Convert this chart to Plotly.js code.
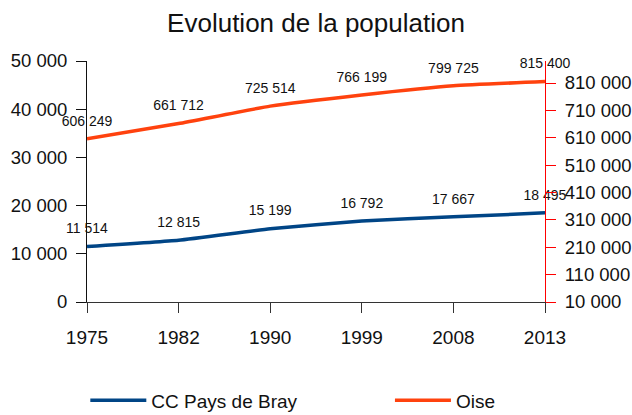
<!DOCTYPE html>
<html>
<head>
<meta charset="utf-8">
<script src="https://cdn.plot.ly/plotly-3.0.1.min.js"></script>
<style>html,body{margin:0;padding:0;background:#fff;}#chart{width:632px;height:415px;}</style>
</head>
<body>
<div id="chart"></div>
<script>
const years = ["1975", "1982", "1990", "1999", "2008", "2013"];
const braySeries = [11514, 12815, 15199, 16792, 17667, 18495];
const oiseSeries = [606249, 661712, 725514, 766199, 799725, 815400];
const leftTicks = [0, 10000, 20000, 30000, 40000, 50000];
const rightTicks = [10000, 110000, 210000, 310000, 410000, 510000, 610000, 710000, 810000];

const FONT = "Liberation Sans, Arial, sans-serif";

function series(x, y, name, color, axis, legend) {
  return {
    x: x, y: y, name: name, yaxis: axis, legend: legend,
    type: "scatter", mode: "lines+markers+text",
    line: {color: color, width: 3.5, shape: "spline", smoothing: 0.4},
    marker: {size: 14, color: "rgba(0,0,0,0)", line: {width: 0}},
    texttemplate: "%{y:,}", textposition: "top center",
    textfont: {family: FONT, size: 14, color: "#111"},
    cliponaxis: false
  };
}

const traces = [
  series(years, braySeries, "CC Pays de Bray", "#004586", "y", "legend"),
  series(years, oiseSeries, "Oise", "#ff420e", "y2", "legend2")
];

const legendFont = {family: FONT, size: 19, color: "#111"};

const layout = {
  width: 632, height: 415,
  margin: {l: 87, r: 87, t: 61, b: 113, autoexpand: false},
  separators: ", ",
  paper_bgcolor: "#fff", plot_bgcolor: "#fff",
  font: {family: FONT, color: "#111"},
  showlegend: true,
  title: {text: "Evolution de la population", font: {family: FONT, size: 26, color: "#111"}, x: 0.5, xanchor: "center", xref: "container", y: 0.945, yanchor: "middle", yref: "container"},
  xaxis: {
    type: "category", range: [0, 5],
    showgrid: false, zeroline: false,
    showline: true, linecolor: "#333", linewidth: 1,
    ticks: "outside", ticklen: 10, tickcolor: "#333",
    ticklabelstandoff: 8,
    tickfont: {family: FONT, size: 19, color: "#111"}
  },
  yaxis: {
    range: [0, 50000], tickvals: leftTicks, tickformat: ",d",
    showgrid: false, zeroline: false,
    showline: true, linecolor: "#111", linewidth: 1,
    ticks: "outside", ticklen: 10, tickcolor: "#111",
    ticklabelstandoff: 5,
    tickfont: {family: FONT, size: 18.5, color: "#111"}
  },
  yaxis2: {
    overlaying: "y", side: "right",
    range: [10000, 890365], tickvals: rightTicks, tickformat: ",d",
    showgrid: false, zeroline: false,
    showline: true, linecolor: "#ff0000", linewidth: 1,
    ticks: "outside", ticklen: 10, tickcolor: "#ff0000",
    ticklabelstandoff: 5,
    tickfont: {family: FONT, size: 18.5, color: "#111"}
  },
  legend: {
    orientation: "h", xref: "container", yref: "container",
    x: 0.135, xanchor: "left", y: 0.035, yanchor: "middle",
    itemwidth: 56,
    font: legendFont, bgcolor: "rgba(0,0,0,0)"
  },
  legend2: {
    orientation: "h", xref: "container", yref: "container",
    x: 0.617, xanchor: "left", y: 0.035, yanchor: "middle",
    itemwidth: 56,
    font: legendFont, bgcolor: "rgba(0,0,0,0)"
  }
};

Plotly.newPlot("chart", traces, layout, {displayModeBar: false, staticPlot: true});
</script>
</body>
</html>
